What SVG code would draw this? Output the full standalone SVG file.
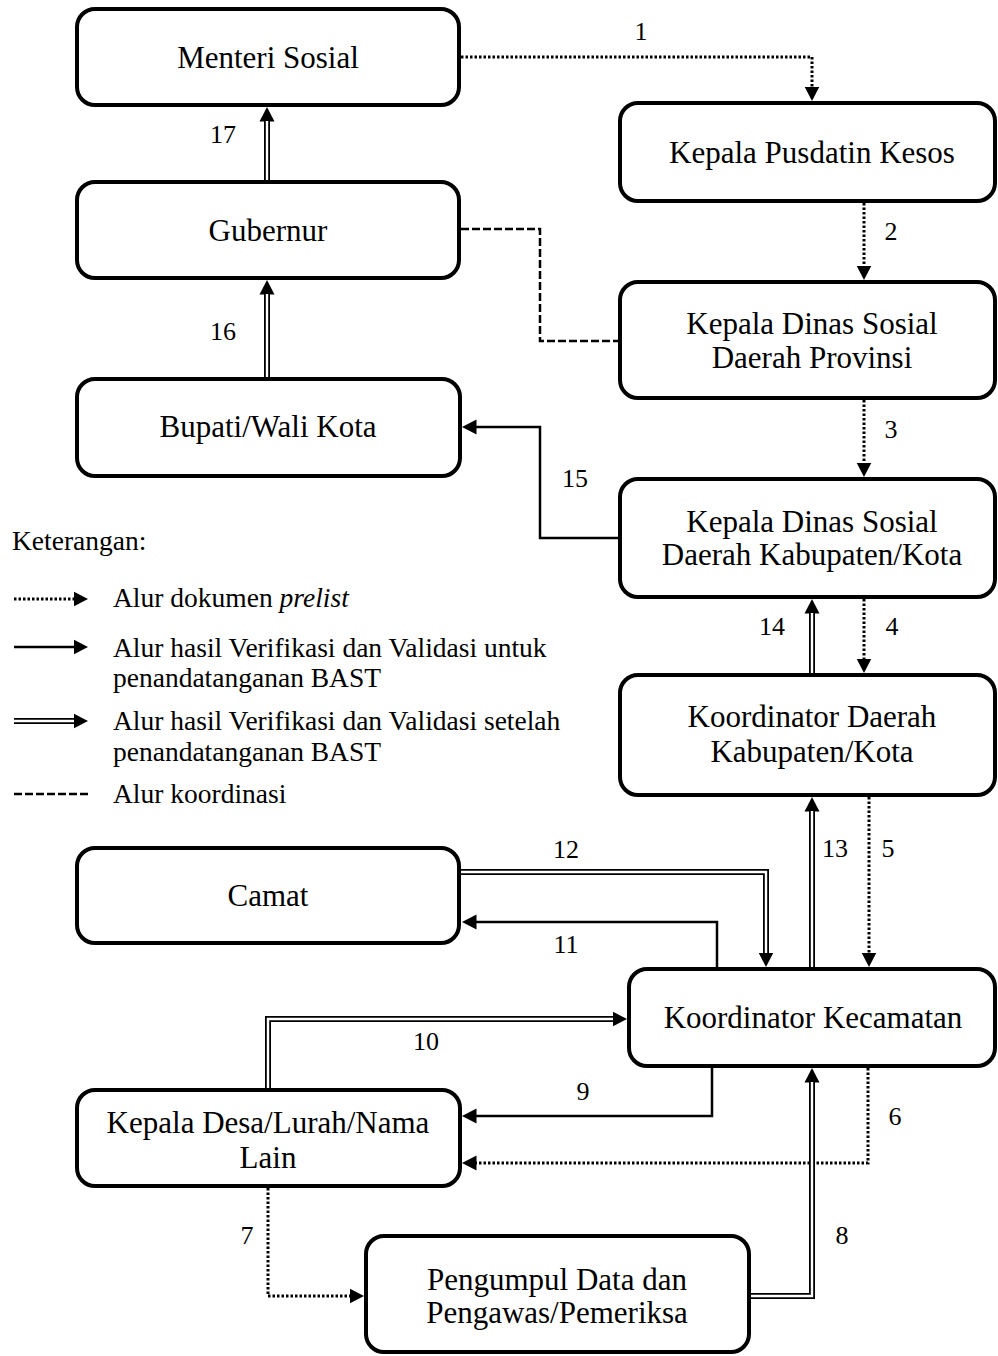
<svg xmlns="http://www.w3.org/2000/svg" width="998" height="1356" viewBox="0 0 998 1356">
<style>
  .box{fill:#fff;stroke:#000;stroke-width:4}
  .t{font-family:"Liberation Serif","Times New Roman",serif;font-size:31px;fill:#000;text-anchor:middle}
  .lbl{font-family:"Liberation Serif","Times New Roman",serif;font-size:26px;fill:#000;text-anchor:middle}
  .lg{font-family:"Liberation Serif","Times New Roman",serif;font-size:27.5px;fill:#000}
  .dot{fill:none;stroke:#000;stroke-width:3;stroke-dasharray:2.5 2}
  .dash{fill:none;stroke:#000;stroke-width:2.5;stroke-dasharray:8 3}
  .sol{fill:none;stroke:#000;stroke-width:2.5}
  .dbo{fill:none;stroke:#000;stroke-width:6}
  .dbi{fill:none;stroke:#fff;stroke-width:2.4}
</style>
<defs>
  <marker id="ah" markerUnits="userSpaceOnUse" markerWidth="15" markerHeight="16" viewBox="0 0 15 16" refX="0.5" refY="8" orient="auto">
    <path d="M0,0.5 L14.5,8 L0,15.5 z" fill="#000"/>
  </marker>
</defs>
<rect width="998" height="1356" fill="#fff"/>

<g id="connectors">
  <!-- 1 -->
  <path class="dot" d="M461,57 H812 V87" marker-end="url(#ah)"/>
  <!-- 2 -->
  <path class="dot" d="M864,203 V266" marker-end="url(#ah)"/>
  <!-- 3 -->
  <path class="dot" d="M864,400 V463" marker-end="url(#ah)"/>
  <!-- 4 -->
  <path class="dot" d="M864,599 V659" marker-end="url(#ah)"/>
  <!-- 5 -->
  <path class="dot" d="M869,797 V953" marker-end="url(#ah)"/>
  <!-- 6 -->
  <path class="dot" d="M868,1068 V1163 H476" marker-end="url(#ah)"/>
  <!-- 7 -->
  <path class="dot" d="M268,1188 V1296 H350" marker-end="url(#ah)"/>
  <!-- 8 -->
  <path class="dbo" d="M751,1296 H812 V1082" marker-end="url(#ah)"/>
  <path class="dbi" d="M751,1296 H812 V1082"/>
  <!-- 9 -->
  <path class="sol" d="M712,1068 V1116 H476" marker-end="url(#ah)"/>
  <!-- 10 -->
  <path class="dbo" d="M268,1088 V1019 H613" marker-end="url(#ah)"/>
  <path class="dbi" d="M268,1088 V1019 H613"/>
  <!-- 11 -->
  <path class="sol" d="M717,967 V922 H476" marker-end="url(#ah)"/>
  <!-- 12 -->
  <path class="dbo" d="M461,872 H766 V953" marker-end="url(#ah)"/>
  <path class="dbi" d="M461,872 H766 V953"/>
  <!-- 13 -->
  <path class="dbo" d="M812,967 V811" marker-end="url(#ah)"/>
  <path class="dbi" d="M812,967 V811"/>
  <!-- 14 -->
  <path class="dbo" d="M812,673 V613" marker-end="url(#ah)"/>
  <path class="dbi" d="M812,673 V613"/>
  <!-- 15 -->
  <path class="sol" d="M618,538 H540 V427 H476" marker-end="url(#ah)"/>
  <!-- 16 -->
  <path class="dbo" d="M267,377 V294" marker-end="url(#ah)"/>
  <path class="dbi" d="M267,377 V294"/>
  <!-- 17 -->
  <path class="dbo" d="M267,180 V121" marker-end="url(#ah)"/>
  <path class="dbi" d="M267,180 V121"/>
  <!-- coordination -->
  <path class="dash" d="M461,229 H540 V341 H618"/>

  <text class="lbl" x="641" y="40">1</text>
  <text class="lbl" x="891" y="240">2</text>
  <text class="lbl" x="891" y="438">3</text>
  <text class="lbl" x="892" y="635">4</text>
  <text class="lbl" x="888" y="857">5</text>
  <text class="lbl" x="895" y="1125">6</text>
  <text class="lbl" x="247" y="1244">7</text>
  <text class="lbl" x="842" y="1244">8</text>
  <text class="lbl" x="583" y="1100">9</text>
  <text class="lbl" x="426" y="1050">10</text>
  <text class="lbl" x="566" y="953">11</text>
  <text class="lbl" x="566" y="858">12</text>
  <text class="lbl" x="835" y="857">13</text>
  <text class="lbl" x="772" y="635">14</text>
  <text class="lbl" x="575" y="487">15</text>
  <text class="lbl" x="223" y="340">16</text>
  <text class="lbl" x="223" y="143">17</text>
</g>

<g id="menteri">
  <rect class="box" x="77" y="9" width="382" height="96" rx="18"/>
  <text class="t" x="268" y="68">Menteri Sosial</text>
</g>
<g id="pusdatin">
  <rect class="box" x="620" y="103" width="375" height="98" rx="18"/>
  <text class="t" x="812" y="163">Kepala Pusdatin Kesos</text>
</g>
<g id="gubernur">
  <rect class="box" x="77" y="182" width="382" height="96" rx="18"/>
  <text class="t" x="268" y="241">Gubernur</text>
</g>
<g id="dinsos-prov">
  <rect class="box" x="620" y="282" width="375" height="116" rx="18"/>
  <text class="t" x="812" y="334">Kepala Dinas Sosial</text>
  <text class="t" x="812" y="368">Daerah Provinsi</text>
</g>
<g id="bupati">
  <rect class="box" x="77" y="379" width="383" height="97" rx="18"/>
  <text class="t" x="268" y="437">Bupati/Wali Kota</text>
</g>
<g id="dinsos-kab">
  <rect class="box" x="620" y="479" width="375" height="118" rx="18"/>
  <text class="t" x="812" y="532">Kepala Dinas Sosial</text>
  <text class="t" x="812" y="565">Daerah Kabupaten/Kota</text>
</g>
<g id="korda">
  <rect class="box" x="620" y="675" width="375" height="120" rx="18"/>
  <text class="t" x="812" y="727">Koordinator Daerah</text>
  <text class="t" x="812" y="762">Kabupaten/Kota</text>
</g>
<g id="camat">
  <rect class="box" x="77" y="848" width="382" height="95" rx="18"/>
  <text class="t" x="268" y="906">Camat</text>
</g>
<g id="korcam">
  <rect class="box" x="629" y="969" width="366" height="97" rx="18"/>
  <text class="t" x="813" y="1028">Koordinator Kecamatan</text>
</g>
<g id="kepala-desa">
  <rect class="box" x="77" y="1090" width="383" height="96" rx="18"/>
  <text class="t" x="268" y="1133">Kepala Desa/Lurah/Nama</text>
  <text class="t" x="268" y="1168">Lain</text>
</g>
<g id="pengumpul">
  <rect class="box" x="366" y="1236" width="383" height="116" rx="18"/>
  <text class="t" x="557" y="1290">Pengumpul Data dan</text>
  <text class="t" x="557" y="1323">Pengawas/Pemeriksa</text>
</g>

<g id="legend">
  <text class="lg" x="12" y="550">Keterangan:</text>
  <path class="dot" d="M14,599 H74" marker-end="url(#ah)"/>
  <text class="lg" x="113" y="607">Alur dokumen <tspan font-style="italic">prelist</tspan></text>
  <path class="sol" d="M14,647 H74" marker-end="url(#ah)"/>
  <text class="lg" x="113" y="657">Alur hasil Verifikasi dan Validasi untuk</text>
  <text class="lg" x="113" y="687">penandatanganan BAST</text>
  <path class="dbo" d="M14,721 H74" marker-end="url(#ah)"/>
  <path class="dbi" d="M14,721 H74"/>
  <text class="lg" x="113" y="730">Alur hasil Verifikasi dan Validasi setelah</text>
  <text class="lg" x="113" y="761">penandatanganan BAST</text>
  <path class="dash" d="M14,794 H88"/>
  <text class="lg" x="113" y="803">Alur koordinasi</text>
</g>
</svg>
